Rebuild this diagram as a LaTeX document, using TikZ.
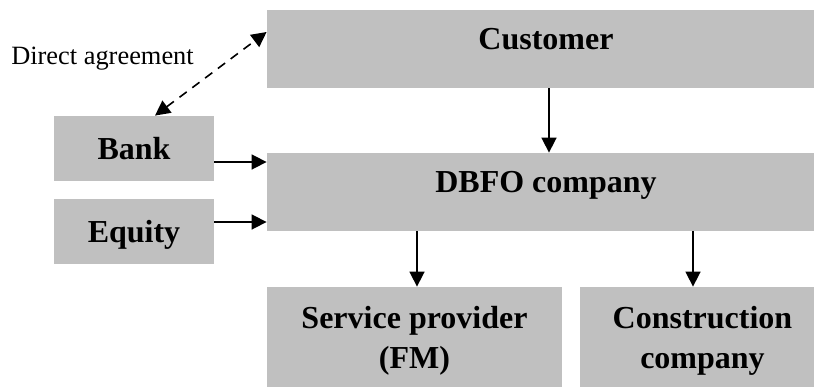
\documentclass[tikz,border=0pt]{standalone}
\usepackage{fontspec}
\setmainfont{Liberation Serif}
\usetikzlibrary{arrows.meta}
\definecolor{boxgray}{RGB}{192,192,192}
\begin{document}
\begin{tikzpicture}[x=0.5pt,y=0.5pt,
    box/.style={fill=boxgray,inner sep=0pt,align=center,
      font=\fontsize{16}{20}\selectfont\bfseries},
    wide/.style={box,minimum width=279pt,minimum height=39pt,
      text height=12pt,text depth=12pt},
    side/.style={box,minimum width=80pt,minimum height=32.5pt,text depth=0pt},
    low/.style={box,minimum height=50pt,text depth=0pt},
    arr/.style={-{Triangle[length=7.5pt,width=7.5pt]},line width=0.8pt}]
  \useasboundingbox (0,0) rectangle (814,387);
  \draw
    (546,338) node[wide] (customer){Customer}
    (546,195) node[wide] (dbfo){DBFO company}
    (134,238.5) node[side] (bank){Bank}
    (134,156) node[side] (equity){Equity}
    (414.5,50) node[low,minimum width=147.5pt] (service){Service provider\\(FM)}
    (702.5,50) node[low,minimum width=122.5pt] (construction){Construction\\company}
    (102.5,323) node[anchor=base,font=\fontsize{13.2}{16}\selectfont] (agreement){Direct agreement};
  \begin{scope}[arr]
    \draw (customer.south -| 549,0) to (dbfo.north -| 549,0);
    \draw (bank.east |- 0,225) to (dbfo.west |- 0,225);
    \draw (equity.east |- 0,165) to (dbfo.west |- 0,165);
    \draw (dbfo.south -| 417,0) to (service.north -| 417,0);
    \draw (dbfo.south -| 693,0) to (construction.north -| 693,0);
    \draw[{Triangle[length=7.5pt,width=7.5pt]}-{Triangle[length=7.5pt,width=7.5pt]},
      dash pattern=on 4.5pt off 3.5pt]
      (bank.north -| 155,0) to (customer.west |- 0,355);
  \end{scope}
\end{tikzpicture}
\end{document}
